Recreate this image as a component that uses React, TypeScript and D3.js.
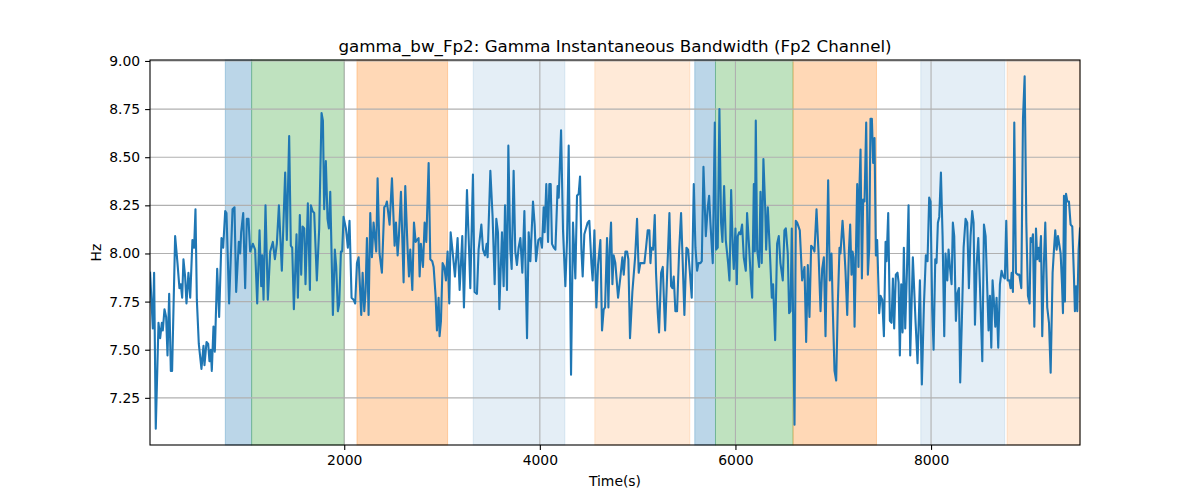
import { useEffect, useRef } from "react";
import * as d3 from "d3";

// [time (s), bandwidth (Hz)]
const bandwidth: [number, number][] = [
  [15, 7.9], [43, 7.61], [56, 7.9], [73, 7.09], [101, 7.64], [118, 7.56], [135, 7.64], [145, 7.6],
  [162, 7.71], [179, 7.67], [193, 7.47], [210, 7.79], [227, 7.39], [240, 7.39], [271, 8.09], [295, 7.95],
  [315, 7.82], [329, 7.84], [343, 7.77], [356, 7.97], [373, 7.88], [387, 7.74], [407, 7.9], [425, 7.77],
  [448, 8.07], [465, 8.03], [479, 8.23], [493, 7.76], [513, 7.53], [540, 7.4], [561, 7.52], [571, 7.42],
  [592, 7.54], [609, 7.53], [622, 7.44], [636, 7.5], [646, 7.39], [663, 7.62], [677, 7.49], [701, 7.92],
  [721, 7.67], [745, 8.08], [762, 8.03], [783, 8.22], [796, 8.21], [823, 7.74], [858, 8.23], [878, 8.24],
  [895, 7.8], [922, 8.06], [936, 8.0], [946, 8.11], [967, 8.21], [987, 7.82], [1004, 8.18], [1021, 8.18],
  [1038, 8.01], [1066, 8.05], [1089, 8.02], [1110, 7.74], [1134, 8.12], [1151, 7.83], [1161, 7.99], [1175, 7.76],
  [1195, 8.25], [1219, 7.76], [1243, 8.01], [1270, 8.06], [1291, 7.97], [1311, 8.05], [1332, 8.25], [1362, 7.91],
  [1396, 8.42], [1413, 8.07], [1437, 8.61], [1454, 8.04], [1468, 8.03], [1485, 7.71], [1512, 8.1], [1526, 7.77],
  [1546, 8.2], [1560, 7.89], [1574, 8.14], [1591, 8.13], [1604, 7.84], [1628, 8.26], [1649, 7.81], [1659, 8.25],
  [1676, 8.22], [1693, 8.21], [1720, 7.86], [1744, 8.13], [1768, 8.73], [1782, 8.69], [1795, 8.23], [1812, 8.48],
  [1829, 8.18], [1843, 8.13], [1857, 8.32], [1884, 7.68], [1904, 8.02], [1918, 7.93], [1935, 7.7], [1949, 7.74],
  [1966, 8.01], [1979, 8.01], [1993, 8.19], [2017, 8.13], [2037, 8.03], [2054, 8.17], [2075, 7.77], [2095, 7.76],
  [2112, 7.74], [2130, 7.95], [2147, 7.98], [2174, 7.68], [2188, 7.9], [2205, 7.7], [2218, 7.8], [2232, 8.08],
  [2249, 7.68], [2266, 8.21], [2283, 7.98], [2300, 8.16], [2327, 8.01], [2341, 8.39], [2361, 8.0], [2385, 7.9],
  [2409, 8.24], [2426, 8.25], [2436, 8.27], [2464, 8.15], [2488, 8.39], [2515, 8.04], [2529, 8.16], [2546, 7.99],
  [2559, 8.09], [2580, 8.32], [2607, 7.85], [2624, 8.35], [2648, 8.02], [2662, 7.88], [2675, 8.02], [2696, 7.81],
  [2713, 8.16], [2730, 8.06], [2743, 8.07], [2760, 8.08], [2771, 7.88], [2784, 8.05], [2805, 7.93], [2822, 8.16],
  [2839, 8.06], [2863, 8.47], [2880, 7.97], [2900, 7.96], [2914, 7.93], [2934, 7.78], [2948, 7.6], [2965, 7.77],
  [2975, 7.57], [2989, 7.65], [3006, 7.95], [3023, 7.93], [3040, 7.86], [3057, 8.01], [3074, 7.74], [3088, 8.11],
  [3108, 8.01], [3132, 7.88], [3159, 8.08], [3180, 7.81], [3207, 8.09], [3224, 7.72], [3255, 8.33], [3279, 7.98],
  [3289, 7.82], [3316, 8.41], [3333, 7.8], [3357, 7.79], [3374, 8.02], [3402, 8.15], [3419, 8.02], [3439, 7.99],
  [3456, 8.05], [3466, 7.98], [3494, 8.43], [3517, 8.19], [3538, 7.84], [3555, 8.18], [3572, 8.11], [3586, 7.71],
  [3613, 8.11], [3630, 7.83], [3644, 8.25], [3664, 7.81], [3678, 8.56], [3698, 8.02], [3712, 7.92], [3732, 8.43],
  [3749, 8.01], [3766, 7.94], [3783, 8.03], [3801, 8.08], [3821, 7.9], [3842, 8.22], [3869, 7.56], [3886, 8.11],
  [3903, 7.96], [3930, 8.27], [3947, 8.15], [3961, 7.96], [3985, 8.07], [4005, 8.08], [4022, 8.03], [4039, 8.24],
  [4049, 8.11], [4066, 8.36], [4084, 8.06], [4097, 8.36], [4111, 8.36], [4124, 8.05], [4142, 8.03], [4159, 8.02],
  [4182, 8.35], [4193, 8.29], [4217, 8.64], [4237, 8.12], [4261, 7.83], [4278, 8.07], [4295, 8.56], [4319, 7.37],
  [4339, 8.16], [4363, 7.87], [4380, 8.3], [4397, 8.31], [4411, 8.4], [4425, 8.02], [4438, 7.88], [4455, 8.1],
  [4489, 8.16], [4506, 8.17], [4527, 7.95], [4540, 7.86], [4558, 8.12], [4578, 7.72], [4595, 7.94], [4619, 8.07],
  [4636, 7.6], [4653, 7.71], [4667, 7.72], [4687, 8.08], [4701, 7.72], [4714, 8.02], [4728, 8.16], [4742, 7.84],
  [4755, 7.99], [4772, 7.95], [4800, 7.77], [4824, 7.88], [4844, 7.98], [4858, 7.89], [4875, 8.01], [4892, 8.01],
  [4905, 7.97], [4922, 7.56], [4946, 7.8], [4974, 7.98], [4994, 8.18], [5011, 7.9], [5028, 7.95], [5049, 7.95],
  [5069, 7.95], [5086, 8.03], [5103, 8.12], [5120, 8.12], [5131, 7.95], [5141, 8.03], [5158, 8.02], [5175, 8.2],
  [5188, 7.9], [5206, 7.69], [5219, 7.59], [5240, 7.9], [5257, 7.93], [5270, 7.74], [5281, 7.6], [5301, 7.88],
  [5325, 8.21], [5342, 7.83], [5356, 7.82], [5369, 7.88], [5386, 7.7], [5403, 7.7], [5424, 8.01], [5444, 8.21],
  [5461, 7.95], [5478, 7.68], [5499, 8.03], [5516, 8.02], [5533, 7.91], [5553, 7.77], [5574, 8.36], [5591, 8.03],
  [5608, 7.91], [5622, 7.95], [5642, 7.95], [5656, 7.96], [5673, 8.45], [5697, 8.09], [5717, 8.24], [5731, 8.3],
  [5744, 8.16], [5768, 7.95], [5789, 8.68], [5802, 8.02], [5819, 8.03], [5836, 8.75], [5853, 8.16], [5867, 8.06],
  [5884, 8.35], [5901, 8.07], [5925, 7.95], [5939, 7.86], [5956, 8.33], [5973, 8.02], [5983, 7.92], [6000, 8.13],
  [6014, 7.84], [6024, 8.09], [6038, 8.11], [6051, 8.1], [6068, 8.15], [6085, 7.98], [6106, 7.91], [6119, 8.21],
  [6140, 8.03], [6160, 7.84], [6171, 7.77], [6188, 8.36], [6198, 8.01], [6208, 8.69], [6222, 8.02], [6242, 7.93],
  [6256, 8.32], [6269, 7.95], [6286, 8.49], [6304, 8.24], [6314, 8.02], [6331, 8.24], [6351, 8.02], [6372, 7.77],
  [6385, 7.84], [6406, 7.55], [6426, 8.05], [6443, 8.09], [6460, 7.95], [6484, 7.86], [6501, 8.12], [6515, 8.13],
  [6535, 8.0], [6549, 7.69], [6563, 7.7], [6576, 8.13], [6590, 7.67], [6604, 7.11], [6617, 8.17], [6631, 8.16],
  [6658, 8.12], [6682, 7.86], [6706, 7.93], [6723, 7.54], [6740, 7.94], [6757, 7.67], [6774, 8.04], [6791, 8.03],
  [6808, 8.01], [6829, 8.23], [6849, 8.01], [6870, 7.7], [6887, 7.92], [6904, 7.98], [6921, 7.57], [6948, 8.38],
  [6965, 7.86], [6982, 8.0], [6996, 7.7], [7013, 7.39], [7030, 7.34], [7047, 7.74], [7064, 8.03], [7074, 8.0],
  [7095, 8.17], [7108, 8.07], [7125, 7.91], [7143, 7.68], [7160, 8.01], [7173, 8.15], [7187, 7.89], [7197, 8.01],
  [7207, 7.98], [7218, 7.62], [7231, 7.98], [7245, 8.36], [7258, 7.93], [7265, 8.29], [7279, 8.54], [7293, 7.87],
  [7306, 8.28], [7320, 8.27], [7337, 8.68], [7354, 7.89], [7368, 8.03], [7381, 8.7], [7395, 8.7], [7408, 8.47],
  [7422, 8.6], [7436, 7.99], [7449, 8.07], [7470, 7.69], [7484, 7.78], [7501, 7.76], [7518, 7.57], [7535, 8.06],
  [7545, 7.96], [7562, 8.21], [7579, 7.65], [7596, 7.64], [7610, 7.87], [7623, 7.61], [7640, 7.89], [7657, 7.9],
  [7668, 7.85], [7681, 7.47], [7695, 7.84], [7709, 7.59], [7722, 8.03], [7736, 7.61], [7753, 7.9], [7770, 8.25],
  [7787, 7.47], [7814, 7.98], [7842, 7.64], [7862, 7.43], [7886, 7.86], [7906, 7.32], [7927, 7.73], [7947, 7.99],
  [7964, 7.96], [7981, 8.29], [7995, 8.27], [8012, 7.71], [8026, 7.5], [8043, 7.97], [8056, 7.95], [8070, 8.16],
  [8084, 8.19], [8101, 8.42], [8118, 8.09], [8135, 7.57], [8148, 8.0], [8166, 7.86], [8179, 8.02], [8193, 7.93],
  [8210, 7.84], [8223, 8.16], [8237, 8.09], [8254, 7.65], [8268, 7.79], [8285, 7.82], [8298, 7.33], [8316, 7.67],
  [8333, 8.03], [8353, 8.18], [8370, 8.16], [8387, 7.82], [8404, 8.09], [8421, 8.22], [8435, 8.16], [8449, 7.63],
  [8466, 7.94], [8483, 8.08], [8500, 7.83], [8524, 7.44], [8541, 8.15], [8558, 8.09], [8575, 7.81], [8588, 7.6],
  [8602, 7.78], [8616, 7.51], [8629, 7.86], [8643, 7.75], [8657, 7.62], [8670, 7.77], [8687, 7.51], [8704, 7.84],
  [8721, 7.91], [8738, 7.88], [8755, 7.87], [8769, 8.17], [8783, 7.86], [8800, 7.86], [8813, 7.82], [8824, 7.9],
  [8837, 7.8], [8851, 8.68], [8868, 7.9], [8885, 7.89], [8902, 7.89], [8923, 7.82], [8940, 8.7], [8957, 8.92],
  [8974, 8.16], [8991, 7.78], [9008, 7.74], [9018, 8.08], [9032, 8.06], [9042, 8.1], [9056, 7.62], [9073, 8.13],
  [9086, 7.97], [9100, 8.03], [9110, 7.96], [9124, 8.09], [9137, 7.57], [9154, 7.95], [9168, 8.16], [9188, 7.72],
  [9206, 7.64], [9223, 7.38], [9243, 7.9], [9257, 8.02], [9270, 8.12], [9284, 8.02], [9298, 8.09], [9325, 8.0],
  [9339, 7.84], [9349, 7.69], [9359, 8.3], [9369, 7.75], [9380, 8.31], [9393, 8.27], [9410, 8.27], [9427, 8.15],
  [9444, 8.14], [9461, 7.88], [9471, 7.7], [9482, 7.83], [9495, 7.7], [9509, 8.02], [9523, 8.13],
];

// shaded stages: start, end (s) and kind
const spanStarts = [784, 1053, 2130, 3319, 4562, 5584, 5796, 6589, 7895, 8777];
const spanEnds = [1053, 2000, 3057, 4256, 5533, 5796, 6589, 7442, 8753, 9523];
const spanKinds = ["blue", "green", "orange", "paleBlue", "paleOrange", "blue", "green", "orange", "paleBlue", "paleOrange"];

const yTicks = [7.25, 7.5, 7.75, 8.0, 8.25, 8.5, 8.75, 9.0];
const xTicks = [2000, 4000, 6000, 8000];

const kindStyle: Record<string, { color: string; alpha: number }> = {
  blue: { color: "#1f77b4", alpha: 0.3 },
  green: { color: "#2ca02c", alpha: 0.3 },
  orange: { color: "#ff7f0e", alpha: 0.3 },
  paleBlue: { color: "#1f77b4", alpha: 0.12 },
  paleOrange: { color: "#ff7f0e", alpha: 0.16 },
};

const W = 1200;
const H = 500;
const margin = { top: 60, right: 120, bottom: 55, left: 150 };
const FONT = "DejaVu Sans, sans-serif";

export default function App() {
  const svgRef = useRef<SVGSVGElement>(null);

  useEffect(() => {
    document.body.style.margin = "0";
    if (!svgRef.current) return;
    const svg = d3.select(svgRef.current);
    svg.selectAll("*").remove();

    const x = d3
      .scaleLinear()
      .domain([14, 9523])
      .range([margin.left, W - margin.right]);
    const y = d3
      .scaleLinear()
      .domain([7.005, 9.005])
      .range([H - margin.bottom, margin.top]);

    const g = svg.append("g");

    // Stage spans
    g.selectAll(".span")
      .data(spanStarts.map((s, i) => ({ s, e: spanEnds[i], k: spanKinds[i] })))
      .join("rect")
      .attr("x", (d) => x(d.s))
      .attr("width", (d) => x(d.e) - x(d.s))
      .attr("y", margin.top)
      .attr("height", H - margin.bottom - margin.top)
      .attr("fill", (d) => kindStyle[d.k].color)
      .attr("fill-opacity", (d) => kindStyle[d.k].alpha)
      .attr("stroke", (d) => kindStyle[d.k].color)
      .attr("stroke-opacity", (d) => kindStyle[d.k].alpha)
      .attr("stroke-width", 1);

    // Grid
    g.selectAll(".gx")
      .data(xTicks)
      .join("line")
      .attr("x1", (d) => x(d))
      .attr("x2", (d) => x(d))
      .attr("y1", margin.top)
      .attr("y2", H - margin.bottom)
      .attr("stroke", "#b0b0b0")
      .attr("stroke-width", 1.1);
    g.selectAll(".gy")
      .data(yTicks)
      .join("line")
      .attr("x1", margin.left)
      .attr("x2", W - margin.right)
      .attr("y1", (d) => y(d))
      .attr("y2", (d) => y(d))
      .attr("stroke", "#b0b0b0")
      .attr("stroke-width", 1.1);

    // Trace
    svg
      .append("defs")
      .append("clipPath")
      .attr("id", "plot-clip")
      .append("rect")
      .attr("x", margin.left)
      .attr("y", margin.top)
      .attr("width", W - margin.left - margin.right)
      .attr("height", H - margin.top - margin.bottom);

    const line = d3
      .line<[number, number]>()
      .x((d) => x(d[0]))
      .y((d) => y(d[1]));

    g.append("path")
      .datum(bandwidth)
      .attr("clip-path", "url(#plot-clip)")
      .attr("fill", "none")
      .attr("stroke", "#1f77b4")
      .attr("stroke-width", 2.1)
      .attr("stroke-linejoin", "round")
      .attr("stroke-linecap", "square")
      .attr("d", line);

    // Axes
    const xAxis = g
      .append("g")
      .attr("transform", `translate(0,${H - margin.bottom})`)
      .call(d3.axisBottom(x).tickValues(xTicks).tickFormat(d3.format("d")).tickSize(4.9).tickPadding(4.9));
    const yAxis = g
      .append("g")
      .attr("transform", `translate(${margin.left},0)`)
      .call(d3.axisLeft(y).tickValues(yTicks).tickFormat(d3.format(".2f")).tickSize(4.9).tickPadding(4.9));

    [xAxis, yAxis].forEach((a) => {
      a.select(".domain").remove();
      a.selectAll(".tick line").attr("stroke", "#000").attr("stroke-width", 1.1);
      a.selectAll(".tick text").attr("font-family", FONT).attr("font-size", 13.9).attr("fill", "#000");
    });

    // Frame
    g.append("rect")
      .attr("x", margin.left)
      .attr("y", margin.top)
      .attr("width", W - margin.left - margin.right)
      .attr("height", H - margin.top - margin.bottom)
      .attr("fill", "none")
      .attr("stroke", "#000")
      .attr("stroke-width", 1.1);

    // Labels
    g.append("text")
      .attr("x", (margin.left + W - margin.right) / 2)
      .attr("y", margin.top - 8)
      .attr("text-anchor", "middle")
      .attr("font-family", FONT)
      .attr("font-size", 16.7)
      .text("gamma_bw_Fp2: Gamma Instantaneous Bandwidth (Fp2 Channel)");

    g.append("text")
      .attr("x", (margin.left + W - margin.right) / 2)
      .attr("y", 486)
      .attr("text-anchor", "middle")
      .attr("font-family", FONT)
      .attr("font-size", 13.9)
      .text("Time(s)");

    g.append("text")
      .attr("transform", `translate(101,${(margin.top + H - margin.bottom) / 2}) rotate(-90)`)
      .attr("text-anchor", "middle")
      .attr("font-family", FONT)
      .attr("font-size", 13.9)
      .text("Hz");
  }, []);

  return <svg ref={svgRef} width={W} height={H} style={{ display: "block", background: "#fff" }} />;
}
